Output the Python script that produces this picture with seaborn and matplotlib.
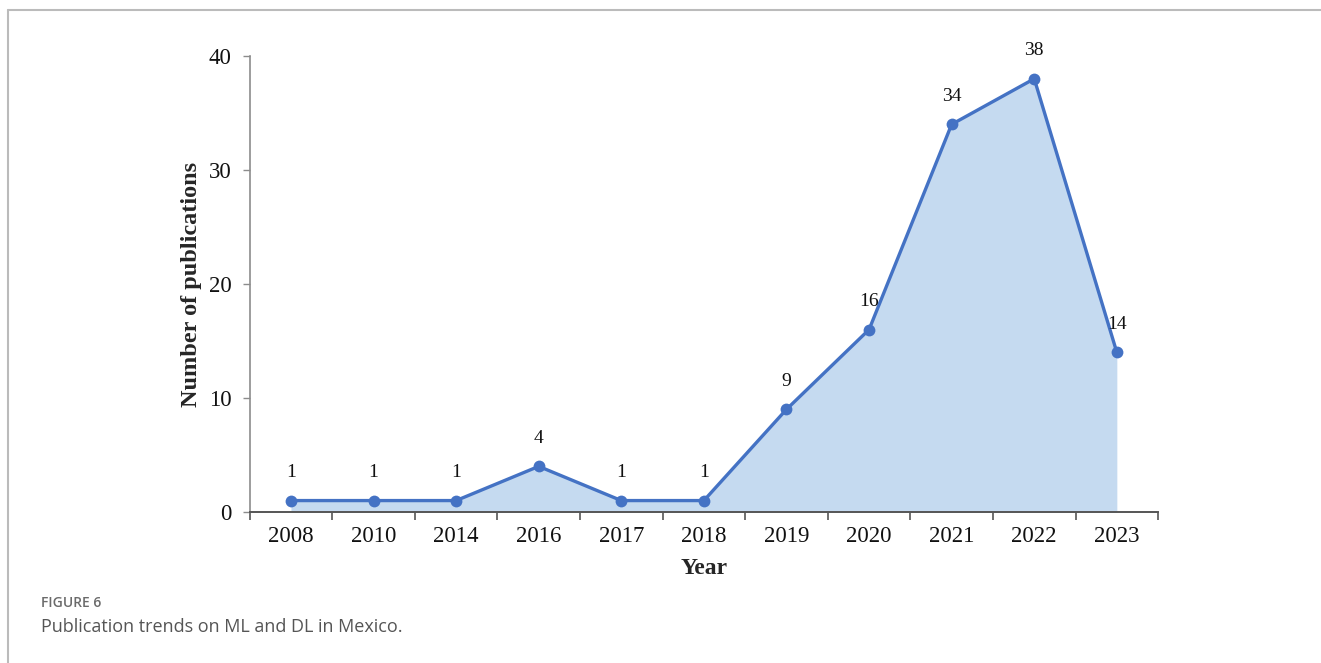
import matplotlib
matplotlib.use("Agg")
import matplotlib.pyplot as plt
import seaborn as sns
import numpy as np
import pandas as pd
from matplotlib.lines import Line2D

years = ["2008", "2010", "2014", "2016", "2017", "2018", "2019", "2020", "2021", "2022", "2023"]
counts = [1, 1, 1, 4, 1, 1, 9, 16, 34, 38, 14]
y_ticks = [0, 10, 20, 30, 40]

sns.set_style("white")
plt.rcParams["font.family"] = ["Liberation Serif", "DejaVu Serif"]

line_color = "#4472C4"
fill_color = "#C5DAF0"
axis_color = "#8C8C8C"

df = pd.DataFrame({"pos": np.arange(len(years)), "count": counts, "year": years})

fig = plt.figure(figsize=(13.21, 6.63), dpi=100)
ax = fig.add_axes([0.189, 0.2278, 0.6877, 0.6878])

ax.fill_between(df["pos"], df["count"], 0, color=fill_color, linewidth=0, zorder=1)
sns.lineplot(data=df, x="pos", y="count", ax=ax, color=line_color, linewidth=2.4,
             marker="o", markersize=8.5, markeredgewidth=0, zorder=3)

for p, v in zip(df["pos"], df["count"]):
    ax.annotate(str(v), (p, v), xytext=(0, 14), textcoords="offset points",
                ha="center", va="bottom", fontsize=14, color="#111111")

ax.set_xlim(-0.5, len(years) - 0.5)
ax.set_ylim(0, 40)
ax.set_xticks(df["pos"])
ax.set_xticklabels(years)
ax.set_xticks(np.arange(-0.5, len(years), 1.0), minor=True)
ax.tick_params(axis="x", which="both", bottom=True)
ax.tick_params(axis="y", which="both", left=True)
ax.tick_params(axis="x", which="major", length=0, pad=10, labelsize=16.5, colors="#111111")
ax.tick_params(axis="x", which="minor", length=6, width=1.2, color="#555555", direction="out")
ax.set_yticks(y_ticks)
ax.tick_params(axis="y", which="major", length=5, width=1, color=axis_color, direction="out",
               labelsize=16.5, labelcolor="#111111", pad=8)

for s in ["top", "right"]:
    ax.spines[s].set_visible(False)
ax.spines["left"].set_color(axis_color)
ax.spines["left"].set_linewidth(1.2)
ax.spines["bottom"].set_color("#555555")
ax.spines["bottom"].set_linewidth(1.4)

ax.set_xlabel("Year", fontsize=17, fontweight="bold", labelpad=8)
ax.set_ylabel("Number of publications", fontsize=17.5, fontweight="bold", labelpad=5)

# frame lines of the figure panel
fig.add_artist(Line2D([8 / 1321, 1.0], [1 - 10 / 663, 1 - 10 / 663], color="#BBBBBB", linewidth=1.5,
                      transform=fig.transFigure))
fig.add_artist(Line2D([8 / 1321, 8 / 1321], [0.0, 1 - 10 / 663], color="#BBBBBB", linewidth=1.5,
                      transform=fig.transFigure))

fig.text(41 / 1321, 1 - 603 / 663, "FIGURE 6", fontsize=10, color="#6B6B6B",
         family=["Open Sans", "DejaVu Sans"], fontweight="semibold", va="center", ha="left")
fig.text(41 / 1321, 1 - 627 / 663, "Publication trends on ML and DL in Mexico.", fontsize=13,
         color="#555555", family=["Open Sans", "DejaVu Sans"], va="center", ha="left")

fig.savefig("out.png", dpi=100)
